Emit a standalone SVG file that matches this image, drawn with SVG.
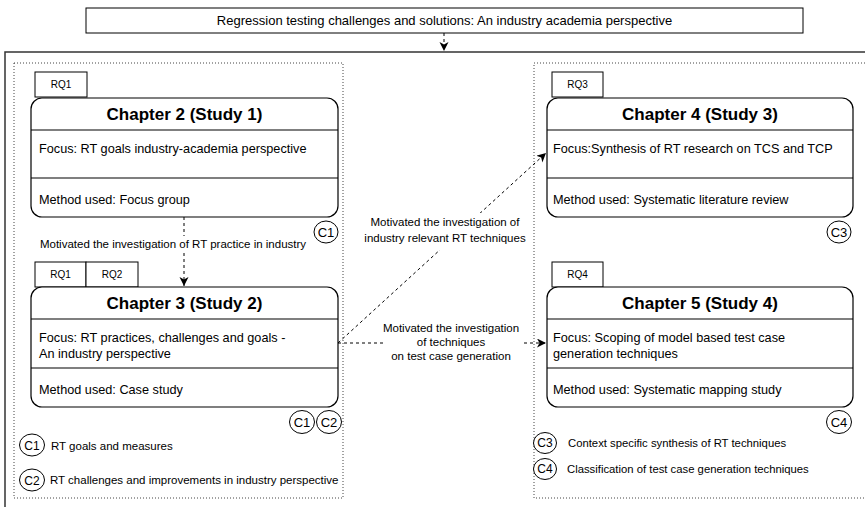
<svg xmlns="http://www.w3.org/2000/svg" width="865" height="507" viewBox="0 0 865 507">
<style>
text{font-family:"Liberation Sans",Arial,Helvetica,sans-serif;fill:#000}
.box{fill:#fff;stroke:#000;stroke-width:1.2}
.sep{stroke:#000;stroke-width:1.2}
.dot{fill:none;stroke:#444;stroke-width:1;stroke-dasharray:1 2}
.rq{fill:#fff;stroke:#000;stroke-width:1}
.rqt{font-size:10px;text-anchor:middle}
.ttl{font-size:17px;font-weight:bold;text-anchor:middle}
.body{font-size:12.7px}
.c{fill:#fff;stroke:#000;stroke-width:1}
.ct{font-size:13px;text-anchor:middle}
.lct{font-size:12px;text-anchor:middle}
.lg{font-size:11.5px}
.lgr{font-size:11.3px}
.lbl{font-size:11.5px;text-anchor:middle}
.conn{fill:none;stroke:#000;stroke-width:1;stroke-dasharray:3 3}
</style>
<defs>
<marker id="arr" markerWidth="12" markerHeight="12" refX="9" refY="4.5" orient="auto" markerUnits="userSpaceOnUse"><path d="M0,0 L9,4.5 L0,9 L2.5,4.5 Z" fill="#000"/></marker>
</defs>
<g id="title">
<rect x="86" y="8" width="717" height="25" fill="#fff" stroke="#000" stroke-width="1"/>
<text x="444.5" y="25" font-size="13px" text-anchor="middle">Regression testing challenges and solutions: An industry academia perspective</text>
</g>
<g id="outer">
<rect x="5" y="52" width="900" height="480" fill="none" stroke="#333" stroke-width="1.5"/>
<rect class="dot" x="14" y="63" width="329" height="435"/>
<rect class="dot" x="534" y="63" width="360" height="435"/>
</g>
<g id="connectors">
<path class="conn" d="M444,33 L444,51" marker-end="url(#arr)"/>
<path class="conn" d="M184,217 L184,286" marker-end="url(#arr)"/>
<path class="conn" d="M338,343 L546,153" marker-end="url(#arr)"/>
<path class="conn" d="M338,343 L546,343" marker-end="url(#arr)"/>
<rect x="38" y="236" width="272" height="16" fill="#fff"/>
<text class="lbl" x="173" y="248">Motivated the investigation of RT practice in industry</text>
<rect x="364" y="213" width="162" height="37" fill="#fff"/>
<text class="lbl" x="445" y="226">Motivated the investigation of</text>
<text class="lbl" x="445" y="242">industry relevant RT techniques</text>
<rect x="383" y="320" width="138" height="42" fill="#fff"/>
<text class="lbl" x="451" y="332">Motivated the investigation</text>
<text class="lbl" x="451" y="346">of techniques</text>
<text class="lbl" x="451" y="360">on test case generation</text>
</g>
<g id="ch2">
<rect class="rq" x="35" y="72" width="52" height="25"/>
<text class="rqt" x="61" y="88">RQ1</text>
<rect class="box" x="31" y="98" width="307" height="119" rx="11"/>
<line class="sep" x1="31" y1="130" x2="338" y2="130"/>
<line class="sep" x1="31" y1="178" x2="338" y2="178"/>
<text class="ttl" x="184.5" y="120">Chapter 2 (Study 1)</text>
<text class="body" x="39" y="153">Focus: RT goals industry-academia perspective</text>
<text class="body" x="39" y="204">Method used: Focus group</text>
<ellipse class="c" cx="326" cy="232" rx="12" ry="11"/>
<text class="ct" x="326" y="237">C1</text>
</g>
<g id="ch3">
<rect class="rq" x="35" y="262" width="51" height="25"/>
<text class="rqt" x="60.5" y="278">RQ1</text>
<rect class="rq" x="86" y="262" width="52" height="25"/>
<text class="rqt" x="112" y="278">RQ2</text>
<rect class="box" x="31" y="287" width="307" height="120" rx="11"/>
<line class="sep" x1="31" y1="319" x2="338" y2="319"/>
<line class="sep" x1="31" y1="368" x2="338" y2="368"/>
<text class="ttl" x="184.5" y="309">Chapter 3 (Study 2)</text>
<text class="body" x="39" y="342">Focus: RT practices, challenges and goals -</text>
<text class="body" x="39" y="358">An industry perspective</text>
<text class="body" x="39" y="394">Method used: Case study</text>
<ellipse class="c" cx="302" cy="422" rx="12.5" ry="11.5"/>
<text class="ct" x="302" y="427">C1</text>
<ellipse class="c" cx="329" cy="422" rx="12.5" ry="11.5"/>
<text class="ct" x="329" y="427">C2</text>
</g>
<g id="ch4">
<rect class="rq" x="552" y="72" width="51" height="25"/>
<text class="rqt" x="577.5" y="88">RQ3</text>
<rect class="box" x="547" y="98" width="306" height="119" rx="11"/>
<line class="sep" x1="547" y1="130" x2="853" y2="130"/>
<line class="sep" x1="547" y1="178" x2="853" y2="178"/>
<text class="ttl" x="700" y="120">Chapter 4 (Study 3)</text>
<text class="body" x="553" y="153">Focus:Synthesis of RT research on TCS and TCP</text>
<text class="body" x="553" y="204">Method used: Systematic literature review</text>
<ellipse class="c" cx="839" cy="232" rx="12" ry="11"/>
<text class="ct" x="839" y="237">C3</text>
</g>
<g id="ch5">
<rect class="rq" x="552" y="262" width="51" height="25"/>
<text class="rqt" x="577.5" y="278">RQ4</text>
<rect class="box" x="547" y="287" width="306" height="120" rx="11"/>
<line class="sep" x1="547" y1="319" x2="853" y2="319"/>
<line class="sep" x1="547" y1="368" x2="853" y2="368"/>
<text class="ttl" x="700" y="309">Chapter 5 (Study 4)</text>
<text class="body" x="553" y="342">Focus: Scoping of model based test case</text>
<text class="body" x="553" y="358">generation techniques</text>
<text class="body" x="553" y="394">Method used: Systematic mapping study</text>
<ellipse class="c" cx="839" cy="422" rx="12.5" ry="11.5"/>
<text class="ct" x="839" y="427">C4</text>
</g>
<g id="legend-left">
<ellipse class="c" cx="32" cy="445" rx="12.5" ry="11"/>
<text class="lct" x="32" y="449.5">C1</text>
<text class="lg" x="51" y="450">RT goals and measures</text>
<ellipse class="c" cx="32" cy="480" rx="12.5" ry="11"/>
<text class="lct" x="32" y="484.5">C2</text>
<text class="lg" x="50" y="484">RT challenges and improvements in industry perspective</text>
</g>
<g id="legend-right">
<ellipse class="c" cx="545" cy="443" rx="11.5" ry="10.5"/>
<text class="lct" x="545" y="447" font-size="11px">C3</text>
<text class="lgr" x="568" y="447">Context specific synthesis of RT techniques</text>
<ellipse class="c" cx="545" cy="469" rx="11.5" ry="10.5"/>
<text class="lct" x="545" y="473" font-size="11px">C4</text>
<text class="lgr" x="567" y="473">Classification of test case generation techniques</text>
</g>
</svg>
